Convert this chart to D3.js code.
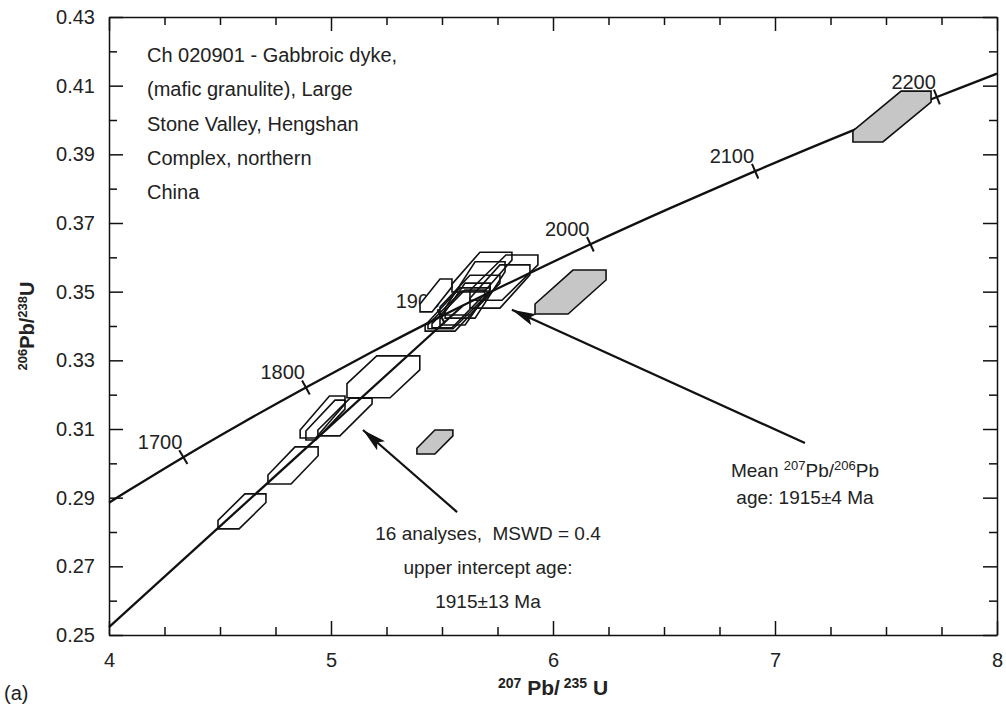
<!DOCTYPE html>
<html>
<head>
<meta charset="utf-8">
<script src="https://cdn.jsdelivr.net/npm/d3@7"></script>
<style>
  body { margin: 0; background: #fff; }
  svg text { font-family: "Liberation Sans", Arial, sans-serif; fill: #222; }
</style>
</head>
<body>
<div class="container"></div>
<script>
const w = 1006
const h = 708

// concordia (age in Ma, 207Pb/235U, 206Pb/238U)
const concAge = [1634, 1650, 1700, 1750, 1800, 1850, 1900, 1950, 2000, 2050, 2100, 2150, 2200, 2231]
const concX = [4.0, 4.0784, 4.3348, 4.6040, 4.8869, 5.1840, 5.4962, 5.8241, 6.1685, 6.5304, 6.9105, 7.3097, 7.7292, 8.0]
const concY = [0.2885, 0.2917, 0.3018, 0.3119, 0.3221, 0.3324, 0.3428, 0.3532, 0.3638, 0.3744, 0.3851, 0.3959, 0.4067, 0.4135]
const ageLabels = [1700, 1800, 1900, 2000, 2100, 2200]

// discordia (regression through the 16 analyses)
const discX = [4.0, 5.593]
const discY = [0.2523, 0.3459]

// error boxes: [207/235, 206/238, half x, half y, top edge, side edge]
const whiteBoxes = [
  [4.599, 0.2860, 0.108, 0.0051, 0.095, 0.0025],
  [4.829, 0.2994, 0.113, 0.0054, 0.104, 0.0026],
  [5.236, 0.3252, 0.164, 0.0061, 0.194, 0.0041],
  [4.975, 0.3126, 0.088, 0.0058, 0.045, 0.0026],
  [5.063, 0.3135, 0.122, 0.0055, 0.099, 0.0017],
  [4.962, 0.3135, 0.101, 0.0061, 0.070, 0.0023],
  [5.680, 0.3557, 0.135, 0.0058, 0.144, 0.0023],
  [5.779, 0.3541, 0.153, 0.0066, 0.144, 0.0029],
  [5.761, 0.3515, 0.135, 0.0063, 0.135, 0.0029],
  [5.649, 0.3505, 0.135, 0.0082, 0.135, 0.0029],
  [5.473, 0.3489, 0.072, 0.0048, 0.054, 0.0023],
  [5.570, 0.3448, 0.146, 0.0063, 0.135, 0.0017],
  [5.570, 0.3447, 0.133, 0.0055, 0.113, 0.0012],
  [5.574, 0.3450, 0.119, 0.0055, 0.090, 0.0012],
  [5.604, 0.3464, 0.113, 0.0061, 0.113, 0.0017],
  [5.626, 0.3490, 0.135, 0.0058, 0.135, 0.0023]
]
const greyBoxes = [
  [7.527, 0.4010, 0.176, 0.0074, 0.135, 0.0032],
  [6.079, 0.3499, 0.160, 0.0064, 0.149, 0.0029],
  [5.468, 0.3062, 0.081, 0.0035, 0.081, 0.0017]
]

const xMajor = [4, 5, 6, 7, 8]
const xMinor = [4.25, 4.5, 4.75, 5.25, 5.5, 5.75, 6.25, 6.5, 6.75, 7.25, 7.5, 7.75]
const yMajor = [0.25, 0.27, 0.29, 0.31, 0.33, 0.35, 0.37, 0.39, 0.41, 0.43]
const yMinor = [0.26, 0.28, 0.30, 0.32, 0.34, 0.36, 0.38, 0.40, 0.42]

const sampleText = ["Ch 020901 - Gabbroic dyke,", "(mafic granulite), Large", "Stone Valley, Hengshan", "Complex, northern", "China"]

const svg = d3.select(".container")
              .append("svg")
              .attr("width", w)
              .attr("height", h)

const x = d3.scaleLinear().domain([4, 8]).range([109, 997])
const y = d3.scaleLinear().domain([0.25, 0.43]).range([635, 17])

// axes, ticks pointing inward on all four sides
function styleAxis(g) {
  g.selectAll("path, line").attr("stroke", "#111").attr("stroke-width", 1.5)
  g.selectAll("text").style("font-size", "20px").attr("fill", "#222")
}

svg.append("g")
    .attr("transform", `translate(0, ${y(0.25)})`)
    .call(d3.axisBottom(x).tickValues(xMajor).tickFormat(d3.format("d"))
            .tickSizeInner(-14).tickSizeOuter(0).tickPadding(18))
    .call(styleAxis)
svg.append("g")
    .attr("transform", `translate(0, ${y(0.25)})`)
    .call(d3.axisBottom(x).tickValues(xMinor).tickFormat("").tickSizeInner(-8).tickSizeOuter(0))
    .call(g => g.select(".domain").remove())
    .call(styleAxis)
svg.append("g")
    .attr("transform", `translate(0, ${y(0.43)})`)
    .call(d3.axisTop(x).tickValues(xMajor).tickFormat("").tickSizeInner(-14).tickSizeOuter(0))
    .call(styleAxis)
svg.append("g")
    .attr("transform", `translate(0, ${y(0.43)})`)
    .call(d3.axisTop(x).tickValues(xMinor).tickFormat("").tickSizeInner(-8).tickSizeOuter(0))
    .call(g => g.select(".domain").remove())
    .call(styleAxis)

svg.append("g")
    .attr("transform", `translate(${x(4)}, 0)`)
    .call(d3.axisLeft(y).tickValues(yMajor).tickFormat(d3.format(".2f"))
            .tickSizeInner(-14).tickSizeOuter(0).tickPadding(14))
    .call(styleAxis)
svg.append("g")
    .attr("transform", `translate(${x(4)}, 0)`)
    .call(d3.axisLeft(y).tickValues(yMinor).tickFormat("").tickSizeInner(-8).tickSizeOuter(0))
    .call(g => g.select(".domain").remove())
    .call(styleAxis)
svg.append("g")
    .attr("transform", `translate(${x(8)}, 0)`)
    .call(d3.axisRight(y).tickValues(yMajor).tickFormat("").tickSizeInner(-14).tickSizeOuter(0))
    .call(styleAxis)
svg.append("g")
    .attr("transform", `translate(${x(8)}, 0)`)
    .call(d3.axisRight(y).tickValues(yMinor).tickFormat("").tickSizeInner(-8).tickSizeOuter(0))
    .call(g => g.select(".domain").remove())
    .call(styleAxis)

// age labels on the concordia
const idx = ageLabels.map(a => concAge.indexOf(a))
svg.append("g")
    .selectAll("text")
    .data(idx)
    .enter()
    .append("text")
      .attr("x", i => x(concX[i]) - 1)
      .attr("y", i => y(concY[i]) - 8)
      .attr("text-anchor", "end")
      .style("font-size", "20px")
      .text(i => concAge[i])

// hexagonal error boxes
function hexagon(b) {
  const [cx, cy, ex, ey, tw, sh] = b
  return [
    [cx + ex - tw, cy + ey], [cx + ex, cy + ey], [cx + ex, cy + ey - sh],
    [cx - ex + tw, cy - ey], [cx - ex, cy - ey], [cx - ex, cy - ey + sh]
  ].map(p => [x(p[0]), y(p[1])])
}
const hexLine = d3.line().curve(d3.curveLinearClosed)

svg.append("g")
    .selectAll("path")
    .data(whiteBoxes)
    .enter()
    .append("path")
      .attr("d", d => hexLine(hexagon(d)))
      .attr("fill", "#fff")

// concordia and discordia
const curve = d3.line().curve(d3.curveCatmullRom)
svg.append("path")
    .attr("d", curve(concX.map((v, i) => [x(v), y(concY[i])])))
    .attr("fill", "none")
    .attr("stroke", "#111")
    .attr("stroke-width", 2.3)
svg.append("path")
    .attr("d", d3.line()(discX.map((v, i) => [x(v), y(discY[i])])))
    .attr("fill", "none")
    .attr("stroke", "#111")
    .attr("stroke-width", 2.3)

// age ticks across the concordia
svg.append("g")
    .selectAll("line")
    .data(idx)
    .enter()
    .append("line")
      .each(function(i) {
        const dx = x(concX[i + 1]) - x(concX[i - 1])
        const dy = y(concY[i + 1]) - y(concY[i - 1])
        const len = Math.hypot(dx, dy)
        const nx = -dy / len * 8, ny = dx / len * 8
        const px = x(concX[i]), py = y(concY[i])
        d3.select(this)
          .attr("x1", px - nx).attr("y1", py - ny)
          .attr("x2", px + nx).attr("y2", py + ny)
      })
      .attr("stroke", "#111")
      .attr("stroke-width", 2)

svg.append("g")
    .selectAll("path")
    .data(whiteBoxes)
    .enter()
    .append("path")
      .attr("d", d => hexLine(hexagon(d)))
      .attr("fill", "none")
      .attr("stroke", "#111")
      .attr("stroke-width", 1.6)

svg.append("g")
    .selectAll("path")
    .data(greyBoxes)
    .enter()
    .append("path")
      .attr("d", d => hexLine(hexagon(d)))
      .attr("fill", "#c6c6c6")
      .attr("stroke", "#111")
      .attr("stroke-width", 1.6)

// arrows
svg.append("defs").append("marker")
    .attr("id", "head")
    .attr("viewBox", "0 0 24 12")
    .attr("refX", 24).attr("refY", 6)
    .attr("markerWidth", 24).attr("markerHeight", 12)
    .attr("markerUnits", "userSpaceOnUse")
    .attr("orient", "auto")
  .append("path")
    .attr("d", "M0,0 L24,6 L0,12 L5,6 Z")
    .attr("fill", "#111")

const arrows = [
  [[7.135, 0.3059], [5.815, 0.3447]],
  [[5.568, 0.2858], [5.144, 0.3097]]
]
svg.append("g")
    .selectAll("line")
    .data(arrows)
    .enter()
    .append("line")
      .attr("x1", d => x(d[0][0])).attr("y1", d => y(d[0][1]))
      .attr("x2", d => x(d[1][0])).attr("y2", d => y(d[1][1]))
      .attr("stroke", "#111")
      .attr("stroke-width", 2.2)
      .attr("marker-end", "url(#head)")

// sample description
svg.append("g")
    .selectAll("text")
    .data(sampleText)
    .enter()
    .append("text")
      .attr("x", 147)
      .attr("y", (d, i) => 62 + i * 34.3)
      .style("font-size", "20px")
      .text(d => d)

// annotations
const mean1 = svg.append("text").attr("x", x(7.135)).attr("y", 477)
    .attr("text-anchor", "middle").style("font-size", "19px")
mean1.append("tspan").text("Mean ")
mean1.append("tspan").text("207").style("font-size", "13px").attr("dy", -7)
mean1.append("tspan").text("Pb/").attr("dy", 7)
mean1.append("tspan").text("206").style("font-size", "13px").attr("dy", -7)
mean1.append("tspan").text("Pb").attr("dy", 7)
svg.append("text").attr("x", x(7.135)).attr("y", 504)
    .attr("text-anchor", "middle").style("font-size", "19px")
    .text("age: 1915\u00b14 Ma")

const regrText = ["16 analyses,  MSWD = 0.4", "upper intercept age:", "1915\u00b113 Ma"]
svg.append("g")
    .selectAll("text")
    .data(regrText)
    .enter()
    .append("text")
      .attr("x", 488)
      .attr("y", (d, i) => 540 + i * 34)
      .attr("text-anchor", "middle")
      .style("font-size", "19px")
      .style("white-space", "pre")
      .text(d => d)

// axis titles
const xt = svg.append("text").attr("x", 553).attr("y", 695)
    .attr("text-anchor", "middle")
    .style("font-family", "'Liberation Sans Narrow', 'Liberation Sans', sans-serif")
    .style("font-weight", "bold").style("font-size", "21px")
xt.append("tspan").text("207").style("font-size", "14px").attr("dy", -7)
xt.append("tspan").text(" Pb/").attr("dy", 7)
xt.append("tspan").text(" 235").style("font-size", "14px").attr("dy", -7)
xt.append("tspan").text(" U").attr("dy", 7)

const yt = svg.append("text")
    .attr("transform", "translate(34, 326) rotate(-90)")
    .attr("text-anchor", "middle")
    .style("font-family", "'Liberation Sans Narrow', 'Liberation Sans', sans-serif")
    .style("font-weight", "bold").style("font-size", "20px")
yt.append("tspan").text("206").style("font-size", "13px").attr("dy", -7)
yt.append("tspan").text("Pb/").attr("dy", 7)
yt.append("tspan").text("238").style("font-size", "13px").attr("dy", -7)
yt.append("tspan").text("U").attr("dy", 7)

svg.append("text").attr("x", 4).attr("y", 700).style("font-size", "20px").text("(a)")
</script>
</body>
</html>
